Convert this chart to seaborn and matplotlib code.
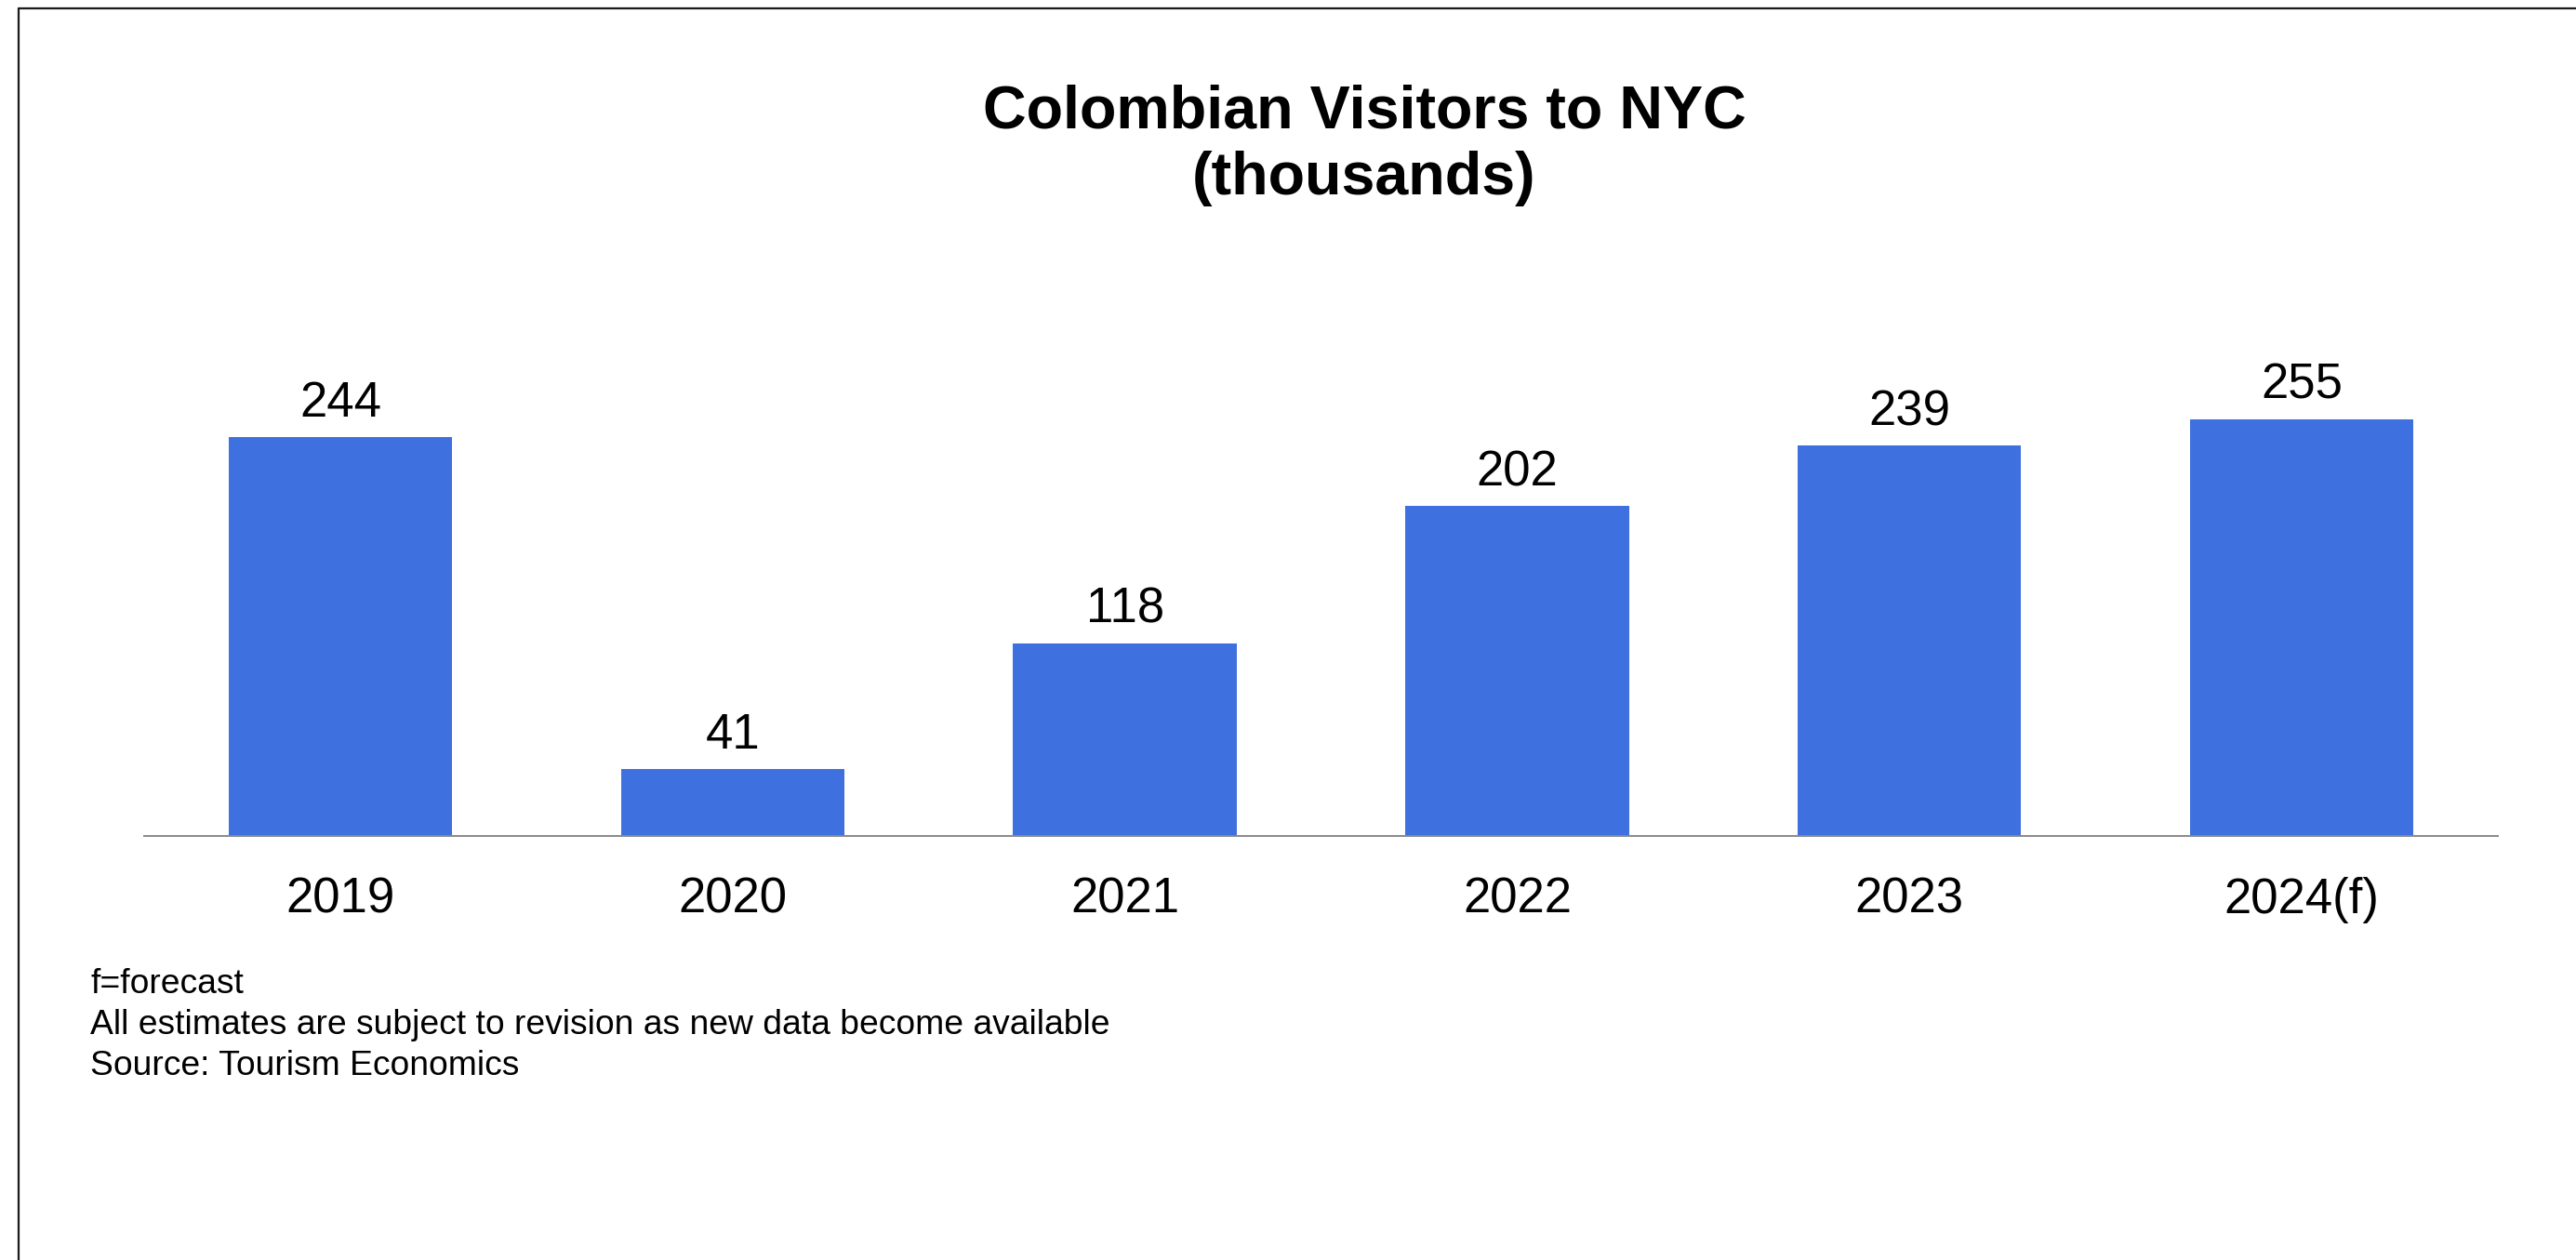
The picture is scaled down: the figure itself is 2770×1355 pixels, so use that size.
import matplotlib
matplotlib.use("Agg")
import matplotlib.pyplot as plt
from matplotlib.lines import Line2D
import seaborn as sns
import pandas as pd

# Data (thousands of visitors)
years = ["2019", "2020", "2021", "2022", "2023", "2024(f)"]
visitors = [244, 41, 118, 202, 239, 255]

title_text = "Colombian Visitors to NYC\n(thousands)"
notes = [
    "f=forecast",
    "All estimates are subject to revision as new data become available",
    "Source: Tourism Economics",
]

bar_color = "#3F70DF"

sns.set_style("white")
plt.rcParams["font.family"] = ["Liberation Sans", "DejaVu Sans"]

W, H, DPI = 2770, 1355, 100
fig = plt.figure(figsize=(W / DPI, H / DPI), dpi=DPI)
fig.patch.set_facecolor("white")

# axes placed in pixel terms
ax_left, ax_right, ax_bottom_px = 155, 2686, 899
y_min, y_max, px_per_unit = 0, 290, 1.757
ax_h = (y_max - y_min) * px_per_unit
ax = fig.add_axes([ax_left / W, (H - ax_bottom_px) / H,
                   (ax_right - ax_left) / W, ax_h / H])

df = pd.DataFrame({"year": years, "visitors": visitors})
sns.barplot(data=df, x="year", y="visitors", color=bar_color,
            saturation=1, width=0.57, linewidth=0, ax=ax)

ax.set_xlim(-0.5, len(years) - 0.5)
ax.set_ylim(y_min, y_max)
ax.set_xlabel("")
ax.set_ylabel("")
ax.set_yticks([])
ax.tick_params(axis="x", length=0, pad=31.5, labelsize=38, labelcolor="black")

for side in ["top", "left", "right"]:
    ax.spines[side].set_visible(False)
ax.spines["bottom"].set_color("#888888")
ax.spines["bottom"].set_linewidth(1.4)

# value labels above bars
for i, v in enumerate(visitors):
    ax.annotate(f"{v}", xy=(i, v), xytext=(0, 22), textcoords="offset pixels",
                ha="center", va="baseline", fontsize=38, color="black")

# title
fig.text(1467 / W, 1 - 90 / H, title_text, ha="center", va="top",
         fontsize=46.5, fontweight="bold", linespacing=1.25, color="black")

# footnotes
for k, line in enumerate(notes):
    fig.text(97 / W, 1 - (1068 + 44 * k) / H, line, ha="left", va="baseline",
             fontsize=26.8, color="black")

# frame lines along the top and left edges
fig.add_artist(Line2D([20 / W, 1.0], [1 - 9.3 / H, 1 - 9.3 / H],
                      transform=fig.transFigure, color="#1a1a1a", linewidth=1.6))
fig.add_artist(Line2D([20.3 / W, 20.3 / W], [0.0, 1 - 9.3 / H],
                      transform=fig.transFigure, color="#1a1a1a", linewidth=1.6))

fig.savefig("out.png", dpi=DPI, facecolor="white")
